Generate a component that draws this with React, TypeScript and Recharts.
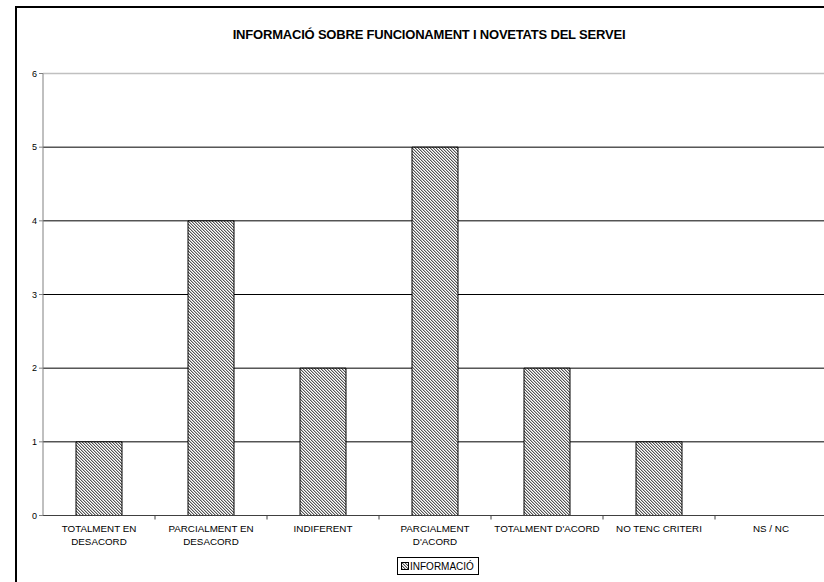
import { BarChart, Bar, XAxis, YAxis, CartesianGrid, ReferenceLine } from 'recharts';

const categories = [
  'TOTALMENT EN DESACORD',
  'PARCIALMENT EN DESACORD',
  'INDIFERENT',
  "PARCIALMENT D'ACORD",
  "TOTALMENT D'ACORD",
  'NO TENC CRITERI',
  'NS / NC',
];
// wrapped label lines per category
const labelLines = [
  ['TOTALMENT EN', 'DESACORD'],
  ['PARCIALMENT EN', 'DESACORD'],
  ['INDIFERENT'],
  ['PARCIALMENT', "D'ACORD"],
  ["TOTALMENT D'ACORD"],
  ['NO TENC CRITERI'],
  ['NS / NC'],
];
const informacio = [1, 4, 2, 5, 2, 1, 0];
const yTicks = [0, 1, 2, 3, 4, 5, 6];
const seriesName = 'INFORMACIÓ';

const data = categories.map((c, i) => ({ name: c, [seriesName]: informacio[i] }));

const FONT = '"Liberation Sans", Arial, sans-serif';
const BAND = 112;

function CategoryTick(props: any) {
  const { x, y, payload, index } = props;
  const lines = labelLines[index] || [payload.value];
  return (
    <g>
      <line x1={x + BAND / 2} x2={x + BAND / 2} y1={y - 8} y2={y - 4} stroke="#404040" />
      <text x={x} y={y + 8} textAnchor="middle" fontSize={9.8} fontFamily={FONT} fill="#000">
        {lines.map((l: string, i: number) => (
          <tspan key={i} x={x} dy={i === 0 ? 0 : 13}>
            {l}
          </tspan>
        ))}
      </text>
    </g>
  );
}

export default function App() {
  return (
    <div style={{ position: 'fixed', left: 0, top: 0, width: 824, height: 582, overflow: 'hidden', background: '#fff' }}>
      <svg width={0} height={0} style={{ position: 'absolute' }}>
        <defs>
          {/* fine pixel-level diagonal hatch */}
          <pattern id="hatch" width={3} height={3} patternUnits="userSpaceOnUse">
            <rect width={3} height={3} fill="#fff" />
            <rect x={0} y={0} width={1} height={1} fill="#555" shapeRendering="crispEdges" />
            <rect x={1} y={1} width={1} height={1} fill="#555" shapeRendering="crispEdges" />
            <rect x={2} y={2} width={1} height={1} fill="#555" shapeRendering="crispEdges" />
            <rect x={1} y={0} width={1} height={1} fill="#bbb" shapeRendering="crispEdges" />
            <rect x={2} y={1} width={1} height={1} fill="#bbb" shapeRendering="crispEdges" />
            <rect x={0} y={2} width={1} height={1} fill="#bbb" shapeRendering="crispEdges" />
          </pattern>
        </defs>
      </svg>
      <div
        style={{
          position: 'absolute',
          left: 15,
          top: 6,
          width: 900,
          height: 700,
          borderTop: '2px solid #000',
          borderLeft: '2px solid #000',
        }}
      />
      <div
        style={{
          position: 'absolute',
          left: 0,
          top: 27,
          width: 858,
          textAlign: 'center',
          fontFamily: FONT,
          fontWeight: 'bold',
          fontSize: 13,
          letterSpacing: -0.2,
        }}
      >
        INFORMACIÓ SOBRE FUNCIONAMENT I NOVETATS DEL SERVEI
      </div>
      <div style={{ position: 'absolute', left: 0, top: 0 }}>
        <BarChart
          width={860}
          height={582}
          data={data}
          margin={{ top: 73.5, right: 33, left: 0, bottom: 36.5 }}
          barSize={46}
        >
          <CartesianGrid vertical={false} stroke="#000" />
          <ReferenceLine y={6} stroke="#c0c0c0" strokeWidth={1.5} />
          <XAxis
            dataKey="name"
            height={30}
            interval={0}
            tickLine={false}
            stroke="#404040"
            tick={<CategoryTick />}
          />
          <YAxis
            width={43}
            domain={[0, 6]}
            ticks={yTicks}
            interval={0}
            stroke="#808080"
            tickSize={4}
            tick={{ fill: '#000', fontSize: 9, fontFamily: FONT }}
          />
          <Bar dataKey={seriesName} fill="url(#hatch)" stroke="#000" strokeWidth={1} isAnimationActive={false} />
        </BarChart>
      </div>
      <div
        style={{
          position: 'absolute',
          left: 397,
          top: 557,
          display: 'flex',
          alignItems: 'center',
          border: '1px solid #000',
          padding: '0 4px 0 3px',
          height: 16,
          fontFamily: FONT,
          fontSize: 10,
          background: '#fff',
        }}
      >
        <svg width={8} height={8} style={{ marginRight: 1 }}>
          <rect x={0.5} y={0.5} width={7} height={7} fill="url(#hatch)" stroke="#000" />
        </svg>
        {seriesName}
      </div>
    </div>
  );
}
